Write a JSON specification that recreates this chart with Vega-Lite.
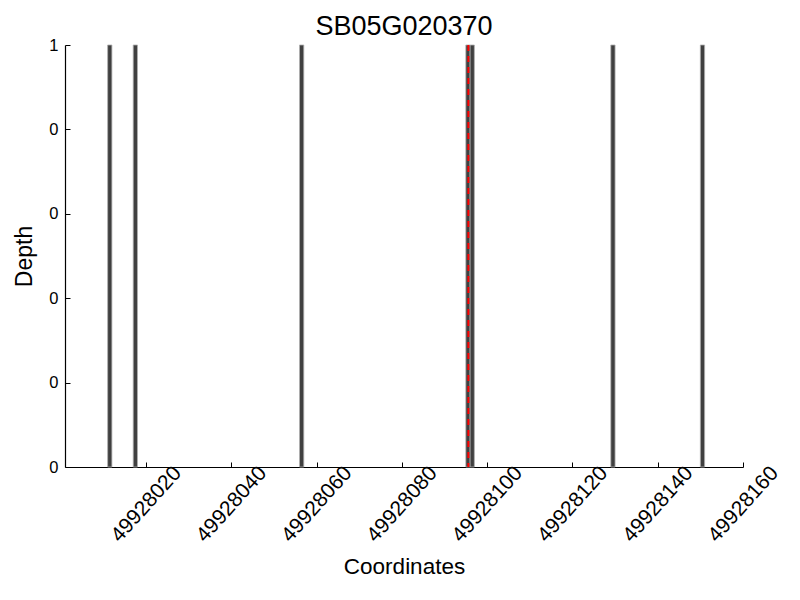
{
  "$schema": "https://vega.github.io/schema/vega-lite/v6.json",
  "width": 678,
  "height": 422,
  "autosize": "none",
  "padding": {"left": 65, "top": 45, "right": 57, "bottom": 133},
  "background": "white",
  "title": {"text": "SB05G020370", "font": "Liberation Sans", "fontSize": 27, "fontWeight": "normal", "color": "black", "anchor": "middle", "offset": -4},
  "config": {
    "view": {"stroke": null},
    "axis": {
      "domainColor": "black",
      "domainWidth": 1.2,
      "tickColor": "black",
      "tickWidth": 1,
      "grid": false,
      "labelFont": "Liberation Sans",
      "labelColor": "black",
      "titleFont": "Liberation Sans",
      "titleFontWeight": "normal",
      "titleColor": "black"
    }
  },
  "data": {
    "values": [
      {"start": 49928011, "end": 49928012, "depth": 1},
      {"start": 49928017, "end": 49928018, "depth": 1},
      {"start": 49928056, "end": 49928057, "depth": 1},
      {"start": 49928095, "end": 49928096, "depth": 1},
      {"start": 49928096, "end": 49928097, "depth": 1},
      {"start": 49928129, "end": 49928130, "depth": 1},
      {"start": 49928150, "end": 49928151, "depth": 1}
    ]
  },
  "layer": [
    {
      "mark": {"type": "rect", "fill": "#404040", "stroke": "#b0b0b0", "strokeWidth": 0.8},
      "encoding": {
        "x": {
          "field": "start", "type": "quantitative",
          "scale": {"domain": [49928001, 49928160], "nice": false, "zero": false},
          "axis": {
            "title": "Coordinates", "titleFontSize": 22.5, "titlePadding": 10,
            "values": [49928020, 49928040, 49928060, 49928080, 49928100, 49928120, 49928140, 49928160],
            "format": "d", "labelAngle": -48, "labelAlign": "center", "labelBaseline": "middle",
            "labelFontSize": 21, "labelPadding": 42, "tickSize": -5, "labelOverlap": false, "labelFlush": false
          }
        },
        "x2": {"field": "end"},
        "y": {
          "field": "depth", "type": "quantitative",
          "scale": {"domain": [0, 1], "nice": false},
          "axis": {
            "title": "Depth", "titleFontSize": 23, "titlePadding": 12,
            "values": [0, 0.2, 0.4, 0.6, 0.8, 1],
            "labelExpr": "toString(floor(datum.value + 0.000001))",
            "labelFontSize": 16.5, "labelPadding": 12, "tickSize": -5, "labelOverlap": false
          }
        },
        "y2": {"datum": 0}
      }
    },
    {
      "data": {"values": [{"pos": 49928095.6}]},
      "mark": {"type": "rule", "color": "red", "strokeWidth": 2, "strokeDash": [6, 5]},
      "encoding": {
        "x": {"field": "pos", "type": "quantitative"}
      }
    }
  ]
}
